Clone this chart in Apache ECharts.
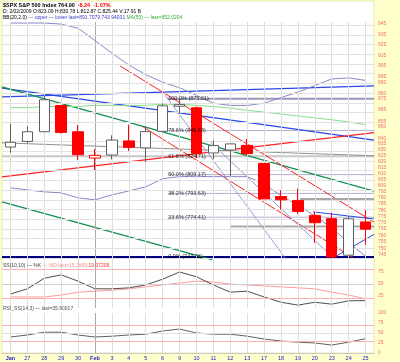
<!DOCTYPE html>
<html><head><meta charset="utf-8">
<script src="https://cdn.jsdelivr.net/npm/echarts@6/dist/echarts.min.js"></script>
<style>html,body{margin:0;padding:0;background:#ffffcc;}#c{width:400px;height:362px;}</style>
</head><body><div id="c"></div>
<script>
// ---------- data ----------
const dates = ['Jan','27','28','29','30','Feb','3','4','5','6','9','10','11','12','13','17','18','19','20','23','24','25'];
const openP  = [832.50,837.30,845.73,868.89,845.69,823.09,825.69,837.77,831.75,846.09,868.24,866.87,827.41,829.91,833.95,818.61,791.06,787.91,775.87,773.25,744.69,770.64];
const highP  = [852.53,850.45,877.86,868.89,851.66,830.78,842.60,851.85,850.55,870.75,875.01,868.05,838.22,835.48,839.43,818.61,796.17,797.58,778.69,777.85,775.49,780.12];
const lowP   = [827.69,835.40,845.73,844.15,821.67,812.87,821.98,829.18,819.91,845.42,861.65,822.99,822.30,808.06,825.21,789.17,780.43,777.03,754.25,742.37,744.69,752.89];
const closeP = [836.57,845.71,874.09,845.14,825.88,825.44,838.51,832.23,845.85,868.60,869.89,827.16,833.74,835.19,826.84,789.17,788.42,778.94,770.05,743.33,773.14,764.90];
const prevClose = 831.95;
const bbUpper = [946,946,946,945,941,929,917,906,897,890,885,878,871,869,869,871,876,881,887,893,894,891.7];
const bbLower = [798.2,796.6,794.9,794.1,790.0,788.4,792.4,795.7,799.0,805.8,807.5,807.5,807.5,807.5,807.5,801.6,791.6,784.2,775.4,766.0,754.3,743.9];
const ma50 = [867,867,868,868,868,869,869,869,869,870,870,869,868,866.5,864.6,863,861.3,859.6,857.9,856.2,854.3,852.0];
const stochK = [29,40,62,69,56,40,40,42,48,60,75,65,48,33,35,23,12,6,12,8,15,15.27];
const stochD = [23,23,23,27,33,35,37,40,44,48,52,56,54,50,48,46,44,42,40,33,27,19.07];
const rsi = [40,45,52,52,45,40,42,45,47,55,60,50,47,47,42,35,30,27,25,20,27,35.9];
const priceTicks = [945,935,925,915,905,895,890,880,875,865,855,850,840,835,830,825,820,815,810,805,800,795,790,785,780,775,770,765,760,755,750,745];
const oscTicks = [25,50,75];
const rsiTicks = [0,25,50,75,100];
const fibPct = ['100.0%','78.6%','61.8%','50.0%','38.2%','23.6%','0.0%'];
const fibLevels = [875.01,846.83,824.71,809.17,793.63,774.41,743.33];
const fibStart = 9.3;
const trendLines = {
  blueA:[[-0.5,884.6],[21.5,838.5]],
  blueB:[[-0.5,876.6],[21.5,886.7]],
  greenA:[[-0.5,885.7],[21.5,795.5]],
  greenB:[[-0.5,786.8],[11.93,741.2]],
  redA:[[-0.5,807.3],[21.5,845.0]],
  redB:[[6.48,905.1],[21.5,770.5]],
  redC:[[7.84,850.0],[20.27,742.7]],
  purpleA:[[9.14,878.4],[16.24,742.7]],
  purpleB:[[11.81,836.9],[19.09,742.7]],
  blueC:[[19.09,742.7],[21.5,760.8]],
  blueD:[[17.9,778.7],[21.5,773.0]],
  grayA:[[-0.5,836.1],[21.5,825.0]],
  grayB:[[17.13,789.17],[21.5,789.17]],
  grayC:[[13.0,767.0],[21.5,767.0]]
};
// ---------- styles ----------
const FONT = 'Liberation Sans, Arial, sans-serif';
const lineStyles = {
  blueA:['#2848e8',1.3], blueB:['#2848e8',1.3], greenA:['#109050',1.3], greenB:['#109050',1.3],
  redA:['#ff2020',1.2], redB:['#ff2020',1], redC:['#ff2020',1], purpleA:['#8c8cd0',0.9], purpleB:['#8c8cd0',0.9],
  blueC:['#2848e8',1], blueD:['#2848e8',1], grayA:['#909090',1], grayB:['#a8a8a8',2], grayC:['#a8a8a8',2]
};
const L = Math.log;
const chart = echarts.init(document.getElementById('c'), null, {renderer:'canvas'});

const candles = openP.map((o,i)=>{
  const c = closeP[i], pc = i ? closeP[i-1] : prevClose;
  const col = c < pc ? '#ff0000' : '#606060';
  const fill = c < o ? col : '#ffffff';
  return {value:[L(o),L(c),L(lowP[i]),L(highP[i])],
    itemStyle:{color:fill,color0:fill,borderColor:col,borderColor0:col,borderWidth:1}};
});

function vgrid(){ return dates.map((d,i)=>({xAxis:i, lineStyle:{color: i===5?'#a8a8a8':'#dedede'}})); }
function hostSeries(xi, yi, data, extra){
  return {type:'line', xAxisIndex:xi, yAxisIndex:yi, data:data, symbol:'none', lineStyle:{opacity:0}, z:0, silent:true,
    markLine:{symbol:['none','none'], silent:true, animation:false, label:{show:false},
      lineStyle:{type:'solid', color:'#e2e2e2', width:1}, data: vgrid().concat(extra)}};
}

const series = [];
series.push(hostSeries(0,0,closeP.map(L), priceTicks.map(v=>({yAxis:L(v)}))));
series.push(hostSeries(2,1,stochK, [{yAxis:50,lineStyle:{color:'#d0d0d0'}},{yAxis:80,lineStyle:{color:'#ffb0b0'}},{yAxis:20,lineStyle:{color:'#ffb0b0'}}]));
series.push(hostSeries(3,2,rsi, [{yAxis:50,lineStyle:{color:'#e0e0e0'}},{yAxis:70,lineStyle:{color:'#ffb0b0'}},{yAxis:30,lineStyle:{color:'#ffb0b0'}}]));

fibLevels.forEach((v,i)=>{
  let color='#b0b0d0', width=1, x0=fibStart;
  if(i===0){color='#9898b8'; width=2;}
  if(i===2){x0=-0.5; color='#c8c8c8'; width=2;}
  if(i===6){x0=-0.5; color='#000080'; width=2;}
  series.push({type:'line', xAxisIndex:1, yAxisIndex:0, data:[[x0,L(v)],[21.5,L(v)]], symbol:'none', z:1,
    lineStyle:{color:color,width:width}, silent:true});
});
Object.keys(trendLines).forEach(k=>{
  series.push({type:'line', xAxisIndex:1, yAxisIndex:0, data:trendLines[k].map(p=>[p[0],L(p[1])]), symbol:'none', z:2,
    lineStyle:{color:lineStyles[k][0], width:lineStyles[k][1]}, silent:true});
});
series.push({type:'line', xAxisIndex:0, yAxisIndex:0, data:bbUpper.map(L), symbol:'none', z:3, lineStyle:{color:'#8888c8',width:1}});
series.push({type:'line', xAxisIndex:0, yAxisIndex:0, data:bbLower.map(L), symbol:'none', z:3, lineStyle:{color:'#8888c8',width:1}});
series.push({type:'line', xAxisIndex:0, yAxisIndex:0, data:ma50.map(L), symbol:'none', z:3, lineStyle:{color:'#88dd88',width:1}});
series.push({type:'scatter', xAxisIndex:1, yAxisIndex:0, symbolSize:1, itemStyle:{color:'rgba(0,0,0,0)'}, z:6,
  data: fibLevels.map((v,i)=>({value:[fibStart,L(v)], label:{formatter: fibPct[i]+' ('+v.toFixed(2)+')'}})),
  label:{show:true, position:'right', distance:0, fontSize:5.5, fontFamily:FONT, color:'#000'}});
series.push({type:'candlestick', xAxisIndex:0, yAxisIndex:0, data:candles, barWidth:11, z:5,
  markLine:{symbol:['none','none'], silent:true, animation:false, data:[{yAxis:L(closeP[21])}],
    lineStyle:{opacity:0},
    label:{show:true, position:'end', distance:1, formatter:closeP[21].toFixed(2), backgroundColor:'#ff0000',
      color:'#fff', fontWeight:'bold', fontSize:6, fontFamily:FONT, padding:[1,3,1,2]}}});
series.push({type:'line', xAxisIndex:2, yAxisIndex:1, data:stochD, symbol:'none', lineStyle:{color:'#ff9a9a',width:1}});
series.push({type:'line', xAxisIndex:2, yAxisIndex:1, data:stochK, symbol:'none', lineStyle:{color:'#505050',width:1}});
series.push({type:'line', xAxisIndex:3, yAxisIndex:2, data:rsi, symbol:'none', lineStyle:{color:'#606060',width:1}});

function txt(x, y, text, rich){
  return {type:'text', x:x, y:y, z:20, silent:true,
    style:{text:text, rich:rich, verticalAlign:'top', align:'left', font:'5px '+FONT, fill:'#000'}};
}
const r = (size, color, weight)=>({fontSize:size, fill:color, fontWeight:weight||'normal', fontFamily:FONT});

const labelStyle = {color:'#f07070', fontSize:5, fontFamily:FONT, margin:4};
const G = {left:2, right:26};
const option = {
  animation:false,
  backgroundColor:'#ffffcc',
  graphic:[
    {type:'rect', shape:{x:2,y:1,width:372,height:352}, style:{fill:'#ffffff', stroke:'#e8e8b0'}, z:-10, silent:true},
    txt(3, 2, '{a|$SPX S&P 500 Index 764.90}  {r|-8.24  -1.07%}', {a:r(5.5,'#000','bold'), r:r(5.5,'#ff0000','bold')}),
    txt(3, 9, '{a|D: 2/02/2009 O:823.09 H:830.78 L:812.87 C:825.44 V:17.91 B}', {a:r(5,'#000')}),
    txt(3, 15, '{k|BB(20,2.0)} {b|— upper — lower last=891.7079;743.94031} {g|MA(50) — last=852.0204}', {k:r(5,'#000'), b:r(5,'#4040c0'), g:r(5,'#30b030')}),
    txt(3, 263, '{k|SS(10,10) — %K} {p|— %D last=15.2669;}{r|19.07209}', {k:r(5,'#404040'), p:r(5,'#ff9090'), r:r(5,'#ff3030')}),
    txt(3, 306, '{a|RSI_SS(14,3) — last=35.90017}', {a:r(5,'#505050')})
  ],
  grid:[
    {left:G.left, right:G.right, top:22, height:238},
    {left:G.left, right:G.right, top:260, height:48},
    {left:G.left, right:G.right, top:313, height:40}
  ],
  xAxis:[
    {type:'category', gridIndex:0, data:dates, boundaryGap:true, axisLabel:{show:false}, axisTick:{show:false}, axisLine:{show:false}, splitLine:{show:false}},
    {type:'value', gridIndex:0, min:-0.5, max:21.5, show:false},
    {type:'category', gridIndex:1, data:dates, boundaryGap:true, axisLabel:{show:false}, axisTick:{show:false}, axisLine:{show:false}, splitLine:{show:false}},
    {type:'category', gridIndex:2, data:dates, boundaryGap:true, axisTick:{show:false}, splitLine:{show:false},
      axisLine:{show:true, lineStyle:{color:'#c8c8c8'}},
      axisLabel:{interval:0, color:'#2020d0', fontSize:5.5, fontFamily:FONT, margin:2,
        formatter:v=>(v==='Jan'||v==='Feb')?'{b|'+v+'}':v, rich:{b:{fontWeight:'bold', color:'#2020d0', fontSize:5.5, fontFamily:FONT}}}}
  ],
  yAxis:[
    {type:'value', gridIndex:0, position:'right', min:L(741), max:L(947), scale:true,
      axisLine:{show:false}, axisTick:{show:false}, splitLine:{show:false},
      axisLabel:Object.assign({customValues:priceTicks.map(L), formatter:v=>String(Math.round(Math.exp(v)))}, labelStyle)},
    {type:'value', gridIndex:1, position:'right', min:0, max:100,
      axisLine:{show:false}, axisTick:{show:false}, splitLine:{show:false},
      axisLabel:Object.assign({customValues:oscTicks}, labelStyle)},
    {type:'value', gridIndex:2, position:'right', min:0, max:100,
      axisLine:{show:false}, axisTick:{show:false}, splitLine:{show:false},
      axisLabel:Object.assign({customValues:rsiTicks}, labelStyle)}
  ],
  series:series
};
chart.setOption(option);
</script></body></html>
